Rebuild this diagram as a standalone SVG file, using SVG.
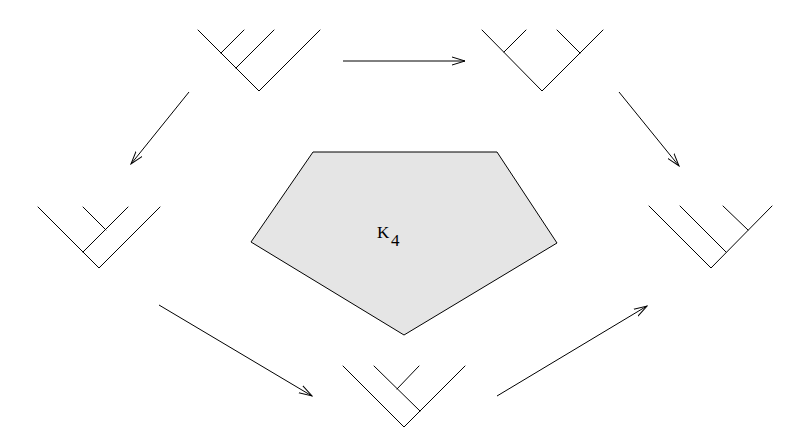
<svg xmlns="http://www.w3.org/2000/svg" width="805" height="446" viewBox="0 0 805 446">
<defs>
<style>
.t{fill:none;stroke:#000;stroke-width:1;stroke-linecap:round;stroke-linejoin:round}
.a{fill:none;stroke:#000;stroke-width:1}
.lbl{font-family:"Liberation Serif",serif;font-size:17px;fill:#000}
</style>
<marker id="ah" viewBox="0 0 14 10" refX="13" refY="5" markerWidth="14" markerHeight="10" markerUnits="userSpaceOnUse" orient="auto">
<path d="M0,1 L13,5 L0,9" fill="none" stroke="#000" stroke-width="1"/>
</marker>
</defs>
<rect width="805" height="446" fill="#fff"/>
<g id="tree-top-left">
<path class="t" d="M198,30 L259,91 L320,30 M221,53 L244,30 M236,68 L274,30"/>
</g>
<g id="tree-top-right">
<path class="t" d="M482,30 L542,91 L603,30 M504,52 L526,30 M580,53 L557,30"/>
</g>
<g id="tree-left">
<path class="t" d="M38,207 L99,268 L160,207 M83,252 L128,207 M106,230 L83,207"/>
</g>
<g id="tree-right">
<path class="t" d="M649,206 L711,268 L772,206 M726,252 L680,206 M748,230 L723,206"/>
</g>
<g id="tree-bottom">
<path class="t" d="M343,366 L404,427 L465,366 M420,411 L374,366 M397,389 L419,366"/>
</g>
<g id="k4">
<polygon points="313,152 497,152 557,243 404,335 251,242" fill="#e5e5e5" stroke="#000" stroke-width="1"/>
<text class="lbl" x="377" y="238">K</text>
<text class="lbl" x="391" y="246">4</text>
</g>
<g id="connectors">
<line class="a" x1="343" y1="61" x2="465" y2="61" marker-end="url(#ah)"/>
<line class="a" x1="189" y1="92" x2="131" y2="164" marker-end="url(#ah)"/>
<line class="a" x1="619" y1="92" x2="679" y2="166" marker-end="url(#ah)"/>
<line class="a" x1="159" y1="305" x2="312" y2="396" marker-end="url(#ah)"/>
<line class="a" x1="497" y1="396" x2="647" y2="306" marker-end="url(#ah)"/>
</g>
</svg>
